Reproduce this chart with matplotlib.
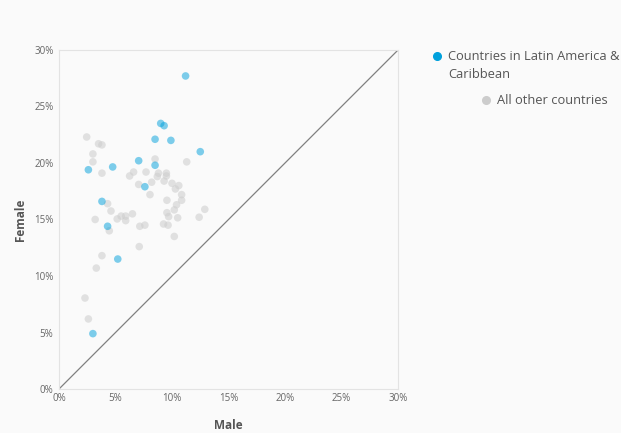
import matplotlib
matplotlib.use("Agg")
import matplotlib.pyplot as plt
from matplotlib.lines import Line2D

plt.rcParams['font.family'] = ['Open Sans', 'DejaVu Sans']

latam_male = [11.2, 9.0, 9.3, 8.5, 9.9, 12.5, 7.05, 8.5, 2.6, 4.75, 7.6, 3.8, 4.3, 5.2, 3.0]
latam_female = [27.7, 23.5, 23.3, 22.1, 22.0, 21.0, 20.2, 19.8, 19.4, 19.65, 17.9, 16.6, 14.4, 11.5, 4.9]

other_male = [2.45, 3.5, 3.8, 3.0, 3.0, 8.5, 11.3, 3.8, 6.6, 6.25, 7.7, 8.8, 9.5, 8.7, 9.5,
              7.05, 8.2, 9.3, 10.0, 10.6, 10.3, 8.05, 10.85, 10.85, 9.55, 10.4, 12.9, 4.3, 4.6,
              10.2, 9.55, 12.4, 3.2, 5.15, 5.5, 5.9, 5.9, 6.5, 4.45, 7.15, 7.6, 7.1, 3.8, 3.3,
              2.3, 2.6, 9.7, 10.5, 9.25, 9.65, 10.2]
other_female = [22.3, 21.7, 21.6, 20.8, 20.1, 20.35, 20.1, 19.1, 19.2, 18.85, 19.2, 19.1, 19.1, 18.8, 18.85,
                18.1, 18.3, 18.4, 18.2, 18.0, 17.7, 17.2, 17.2, 16.7, 16.7, 16.3, 15.9, 16.4, 15.75,
                15.85, 15.6, 15.2, 15.0, 15.05, 15.3, 15.3, 14.9, 15.5, 14.0, 14.4, 14.5, 12.6, 11.8, 10.7,
                8.05, 6.2, 15.25, 15.15, 14.6, 14.5, 13.5]

ticks = [0, 5, 10, 15, 20, 25, 30]
tick_labels = ['0%', '5%', '10%', '15%', '20%', '25%', '30%']

bg = '#fafafa'
fig = plt.figure(figsize=(6.21, 4.33), dpi=100, facecolor=bg)
ax = fig.add_axes([0.095, 0.1016, 0.546, 0.783], facecolor=bg)

ax.plot([0, 30], [0, 30], color='#808080', lw=0.9, zorder=1)
ax.scatter(other_male, other_female, s=30, color='#cccccc', alpha=0.55, edgecolors='none', zorder=2)
ax.scatter(latam_male, latam_female, s=30, color='#00a0dc', alpha=0.5, edgecolors='none', zorder=3)

ax.set_xlim(0, 30)
ax.set_ylim(0, 30)
ax.set_xticks(ticks)
ax.set_xticklabels(tick_labels)
ax.set_yticks(ticks)
ax.set_yticklabels(tick_labels)
ax.tick_params(axis='x', length=0, labelsize=7, colors='#666666', pad=3)
ax.tick_params(axis='y', length=0, labelsize=7, colors='#666666', pad=4)
for s in ax.spines.values():
    s.set_color('#e3e3e3')
    s.set_linewidth(0.8)

ax.set_xlabel('Male', fontsize=8.5, fontweight='bold', color='#555555', labelpad=11)
ax.set_ylabel('Female', fontsize=8.5, fontweight='bold', color='#555555', labelpad=5)

# legend
fig.add_artist(Line2D([437/621], [1 - 56/433], marker='o', markersize=5.5, color='#00a0dc',
                      linestyle='none', transform=fig.transFigure))
fig.text(448/621, 1 - 56/433, 'Countries in Latin America &', fontsize=9.3, color='#555555', va='center')
fig.text(448/621, 1 - 74/433, 'Caribbean', fontsize=9.3, color='#555555', va='center')
fig.add_artist(Line2D([486/621], [1 - 100/433], marker='o', markersize=5.5, color='#cccccc',
                      linestyle='none', transform=fig.transFigure))
fig.text(497/621, 1 - 100/433, 'All other countries', fontsize=9.3, color='#555555', va='center')

fig.savefig('out.png', dpi=100, facecolor=bg)
